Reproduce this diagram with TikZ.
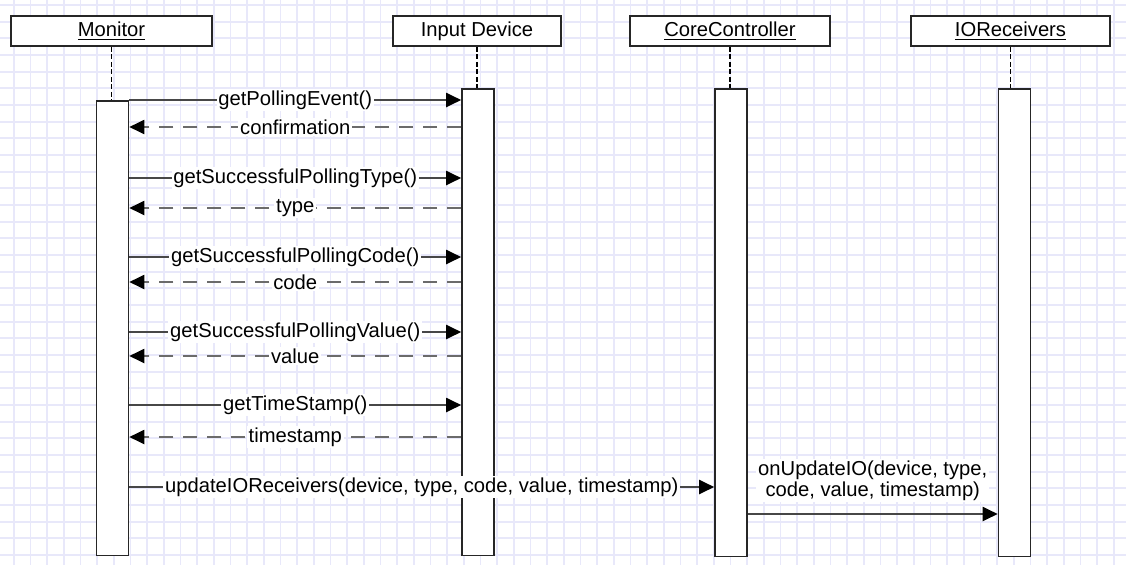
\documentclass[tikz,border=0pt]{standalone}
\usepackage{fontspec}
\setmainfont{Liberation Sans}
\usetikzlibrary{arrows.meta}

\tikzset{
	txt/.style={font=\fontsize{11.5}{12}\selectfont},
	head/.style={txt, draw=black!85, line width=0.9pt, fill=white, minimum height=0.6cm, inner sep=0pt},
	activ/.style={draw=black!85, line width=0.9pt, fill=white, minimum width=0.64cm, anchor=north, inner sep=0pt},
	life/.style={line width=0.9pt, dash pattern=on 0.1cm off 0.05cm},
	gridline/.style={color={rgb,255:red,232;green,232;blue,250}, line width=1pt},
	call/.style={draw=black!72, line width=1.1pt, -{Triangle[length=0.3cm,width=0.28cm,color=black]}},
	reply/.style={call, draw=black!58, dash pattern=on 0.28cm off 0.2cm},
	lbl/.style={txt, fill=white, inner sep=1pt}
}
\def\sendmsg[#1](#2)(#3)(#4)#5{\draw[#1] (#2 |- 0,#4) -- (#3 |- 0,#4) node[midway,lbl] {#5};}

\begin{document}
\begin{tikzpicture}[x=0.02cm, y=-0.02cm]
			%%%%% START %%%%%
			
			\useasboundingbox (0,0) rectangle (1126,565);
			\fill[white] (0,0) rectangle (1126,565);
			
			% background grid
			\foreach \i in {0,...,66}
				\draw[gridline] ({13.9+16.667*\i},0) -- ({13.9+16.667*\i},565);
			\foreach \j in {0,...,33}
				\draw[gridline] (0,{5+16.667*\j}) -- (1126,{5+16.667*\j});
			
			% lifeline heads
			\node[head, minimum width=4.02cm] (monhead) at (111.5,31) {\underline{Monitor}};
			\node[head, minimum width=3.36cm] (inhead) at (477,31) {Input Device};
			\node[head, minimum width=4.0cm] (corehead) at (730,31) {\underline{CoreController}};
			\node[head, minimum width=3.98cm] (iohead) at (1010.5,31) {\underline{IOReceivers}};
			
			% activation bars
			\node[activ, minimum height=9.1cm] (monact) at (112.5,100) {};
			\node[activ, minimum height=9.34cm] (inact) at (478,88) {};
			\node[activ, minimum height=9.36cm] (coreact) at (731,88) {};
			\node[activ, minimum height=9.36cm] (ioact) at (1014.5,88) {};
			
			\draw[life] (monhead.south) -- (monhead.south |- monact.north);
			\draw[life] (inhead.south) -- (inhead.south |- inact.north);
			\draw[life] (corehead.south) -- (corehead.south |- coreact.north);
			\draw[life] (iohead.south) -- (iohead.south |- ioact.north);
			
			% messages
			\sendmsg[call](monact.east)(inact.west)(100){getPollingEvent()}
			\sendmsg[reply](inact.west)(monact.east)(127){confirmation}
			
			\sendmsg[call](monact.east)(inact.west)(178){getSuccessfulPollingType()}
			\sendmsg[reply](inact.west)(monact.east)(208){type}
			
			\sendmsg[call](monact.east)(inact.west)(257){getSuccessfulPollingCode()}
			\sendmsg[reply](inact.west)(monact.east)(282){code}
			
			\sendmsg[call](monact.east)(inact.west)(332){getSuccessfulPollingValue()}
			\sendmsg[reply](inact.west)(monact.east)(356){value}
			
			\sendmsg[call](monact.east)(inact.west)(405){getTimeStamp()}
			\sendmsg[reply](inact.west)(monact.east)(437){timestamp}
			
			\sendmsg[call](monact.east)(coreact.west)(487){updateIOReceivers(device, type, code, value, timestamp)}
			
			\draw[call] (coreact.east |- 0,514) -- (ioact.west |- 0,514)
				node[midway, above=0.22cm, lbl, align=center] {onUpdateIO(device, type,\\code, value, timestamp)};
			
			%%%%% END %%%%%
\end{tikzpicture}
\end{document}
